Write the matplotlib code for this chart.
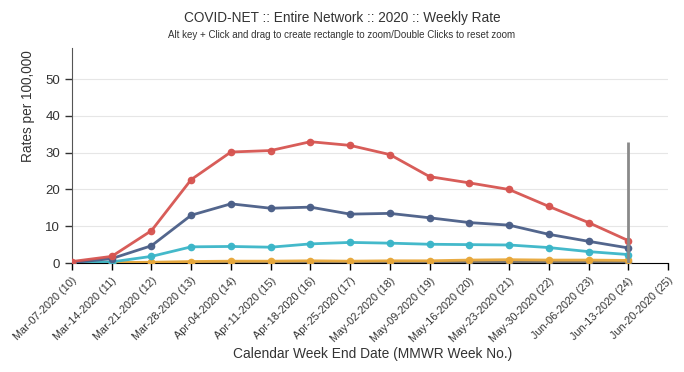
import numpy as np
import matplotlib.pyplot as plt

plt.rcParams['font.family'] = ['Liberation Sans', 'DejaVu Sans']

# week end dates (MMWR week no.)
weeks = ["Mar-07-2020 (10)", "Mar-14-2020 (11)", "Mar-21-2020 (12)", "Mar-28-2020 (13)",
         "Apr-04-2020 (14)", "Apr-11-2020 (15)", "Apr-18-2020 (16)", "Apr-25-2020 (17)",
         "May-02-2020 (18)", "May-09-2020 (19)", "May-16-2020 (20)", "May-23-2020 (21)",
         "May-30-2020 (22)", "Jun-06-2020 (23)", "Jun-13-2020 (24)", "Jun-20-2020 (25)"]

red = [0.4, 1.8, 8.8, 22.7, 30.2, 30.6, 33.0, 32.0, 29.5, 23.5, 21.8, 20.0, 15.4, 11.0, 6.1]
blue = [0.1, 1.2, 4.7, 13.0, 16.1, 14.9, 15.2, 13.3, 13.5, 12.3, 11.0, 10.3, 7.8, 5.9, 4.1]
cyan = [0.0, 0.3, 1.8, 4.4, 4.5, 4.3, 5.2, 5.6, 5.4, 5.1, 5.0, 4.9, 4.2, 3.1, 2.3]
orange = [0.1, 0.1, 0.2, 0.4, 0.5, 0.5, 0.6, 0.5, 0.6, 0.6, 0.8, 0.9, 0.8, 0.8, 0.7]
gray = [0.0, 0.0, 0.1, 0.1, 0.1, 0.1, 0.1, 0.1, 0.2, 0.2, 0.2, 0.2, 0.2, 0.2, 0.2]
hover_top = 33.0

fig = plt.figure(figsize=(6.84, 3.72), dpi=100)
ax = fig.add_axes([72/684, 1 - 263/372, 596/684, (263-48)/372])

x = np.arange(len(red))
series = [(gray, '#6e6e6e'), (orange, '#e8a83a'), (cyan, '#3ab5c8'),
          (blue, '#4a5e87'), (red, '#d65450')]
for vals, c in series:
    ax.plot(x, vals, color=c, lw=2.0, marker='o', ms=4.5, alpha=0.95,
            solid_capstyle='round', zorder=3)

ax.vlines(14, 0, hover_top, color='#8a8a8a', lw=2, zorder=4)

ax.set_xlim(0, 15)
ax.set_ylim(0, 58.5)
ax.set_xticks(np.arange(16))
ax.set_xticklabels(weeks, rotation=45, ha='right', rotation_mode='anchor',
                   fontsize=7.8, color='#333333')
ax.set_yticks([0, 10, 20, 30, 40, 50])
ax.tick_params(axis='y', labelsize=9.5, colors='#333333', length=5, width=1)
ax.tick_params(axis='x', length=5, width=1, colors='black', labelcolor='#333333', pad=4)
for t in ax.get_yticklabels():
    t.set_color('#333333')

ax.grid(axis='y', color='#e6e6e6', lw=0.8)
ax.set_axisbelow(True)
ax.spines['top'].set_visible(False)
ax.spines['right'].set_visible(False)
ax.spines['left'].set_color('#555555')
ax.spines['bottom'].set_color('black')

fig.text(0.5, 1 - 18/372, "COVID-NET :: Entire Network :: 2020 :: Weekly Rate",
         ha='center', va='center', fontsize=9.8, color='#333333')
fig.text(0.5, 1 - 35/372, "Alt key + Click and drag to create rectangle to zoom/Double Clicks to reset zoom",
         ha='center', va='center', fontsize=7.0, color='#333333')
fig.text(28/684, 1 - 106/372, "Rates per 100,000", rotation=90,
         ha='center', va='center', fontsize=9.8, color='#333333')
fig.text(373/684, 1 - 354/372, "Calendar Week End Date (MMWR Week No.)",
         ha='center', va='center', fontsize=9.9, color='#333333')

fig.savefig('out.png', dpi=100)
